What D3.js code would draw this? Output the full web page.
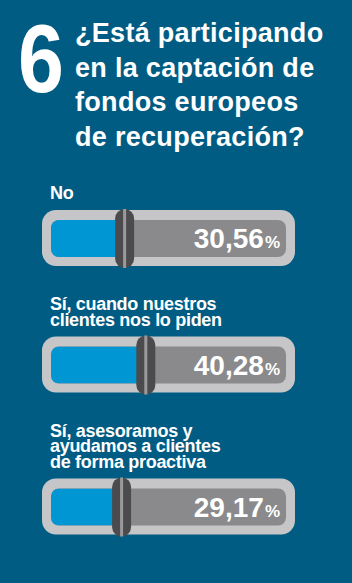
<!DOCTYPE html>
<html>
<head>
<meta charset="utf-8">
<script src="https://cdn.jsdelivr.net/npm/d3@7"></script>
<style>
  body { margin: 0; background: #015c83; }
  svg { display: block; font-family: "Liberation Sans", Arial, sans-serif; }
</style>
</head>
<body>
<div id="chart"></div>
<script>
// Question number and title
const questionNumber = '6';
const titleLines = ['¿Está participando', 'en la captación de', 'fondos europeos', 'de recuperación?'];

// Answers and their share of responses (%)
const answers = [
  ['No'],
  ['Sí, cuando nuestros', 'clientes nos lo piden'],
  ['Sí, asesoramos y', 'ayudamos a clientes', 'de forma proactiva']
];
const values = [30.56, 40.28, 29.17];

let width = 352;
let height = 583;

let svg = d3.select('#chart')
  .append('svg')
  .attr('width', width)
  .attr('height', height);

svg.append('rect')
  .attr('width', width)
  .attr('height', height)
  .attr('fill', '#015c83');

// big number, squeezed a little to look condensed
svg.append('text')
  .attr('transform', 'translate(18,92) scale(0.86,1)')
  .attr('fill', '#fff')
  .attr('font-size', 96)
  .attr('font-weight', 'bold')
  .text(questionNumber);

svg.append('g')
  .selectAll('text')
  .data(titleLines)
  .join('text')
  .attr('x', 75)
  .attr('y', (d, i) => 42 + i * 34.5)
  .attr('fill', '#fff')
  .attr('font-size', 27)
  .attr('font-weight', 'bold')
  .attr('letter-spacing', 0.3)
  .text(d => d);

// value scale: handle centre sits on the value
let x = d3.scaleLinear().domain([0, 100]).range([58, 276]);
let fmt = d3.formatLocale({decimal: ',', thousands: '.', grouping: [3], currency: ['', '']}).format('.2f');

let outer = {x: 42, w: 253, h: 56, r: 14};
let inner = {x: 51, w: 235, dy: 10, h: 37, r: 8};
let lineHeight = 15.5;

// work out where each answer goes (labels have different line counts)
let layout = [];
let y = 199;
answers.forEach((lines, i) => {
  let barTop = y + (lines.length - 1) * lineHeight + 11;
  layout.push({lines: lines, value: values[i], labelY: y, barTop: barTop});
  y = barTop + outer.h + 44;
});

let groups = svg.selectAll('g.answer')
  .data(layout)
  .join('g')
  .attr('class', 'answer');

groups.each(function(d) {
  let g = d3.select(this);

  g.selectAll('text.label')
    .data(d.lines)
    .join('text')
    .attr('class', 'label')
    .attr('x', 50)
    .attr('y', (l, k) => d.labelY + k * lineHeight)
    .attr('fill', '#fff')
    .attr('font-size', 18)
    .attr('font-weight', 'bold')
    .attr('letter-spacing', -0.3)
    .text(l => l);

  g.append('rect')
    .attr('x', outer.x)
    .attr('y', d.barTop)
    .attr('width', outer.w)
    .attr('height', outer.h)
    .attr('rx', outer.r)
    .attr('fill', '#c6c6c8');

  g.append('rect')
    .attr('x', inner.x)
    .attr('y', d.barTop + inner.dy)
    .attr('width', inner.w)
    .attr('height', inner.h)
    .attr('rx', inner.r)
    .attr('fill', '#8a8a8c');

  // blue fill, clipped to the inner track
  let clipId = 'clip' + d.barTop;
  g.append('clipPath')
    .attr('id', clipId)
    .append('rect')
    .attr('x', inner.x)
    .attr('y', d.barTop + inner.dy)
    .attr('width', inner.w)
    .attr('height', inner.h)
    .attr('rx', inner.r);

  g.append('rect')
    .attr('clip-path', 'url(#' + clipId + ')')
    .attr('x', inner.x)
    .attr('y', d.barTop + inner.dy)
    .attr('width', x(d.value) - inner.x)
    .attr('height', inner.h)
    .attr('fill', '#0096d4');

  // handle
  g.append('rect')
    .attr('x', x(d.value) - 9.5)
    .attr('y', d.barTop - 1)
    .attr('width', 19)
    .attr('height', outer.h + 3)
    .attr('rx', 9.5)
    .attr('fill', '#4b4b4d');

  g.append('rect')
    .attr('x', x(d.value) - 1.5)
    .attr('y', d.barTop - 1)
    .attr('width', 3)
    .attr('height', outer.h + 3)
    .attr('fill', '#9a9a9c');

  let t = g.append('text')
    .attr('x', 280)
    .attr('y', d.barTop + 38)
    .attr('text-anchor', 'end')
    .attr('fill', '#fff')
    .attr('font-weight', 'bold');
  t.append('tspan')
    .attr('font-size', 28)
    .text(fmt(d.value));
  t.append('tspan')
    .attr('font-size', 17)
    .attr('dx', 1)
    .text('%');
});
</script>
</body>
</html>
